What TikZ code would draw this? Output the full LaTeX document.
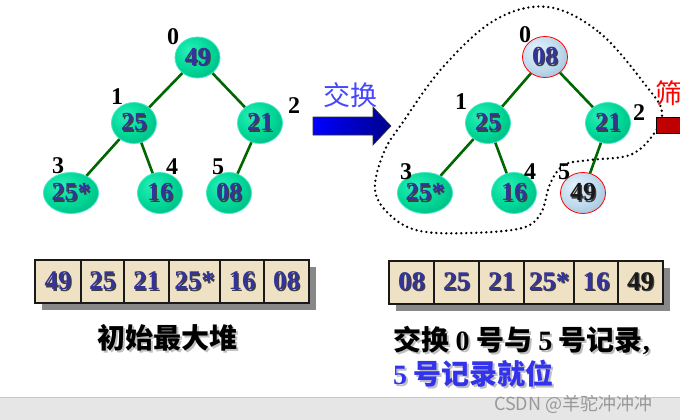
\documentclass[tikz,border=0pt]{standalone}
\usepackage{fontspec}
\setmainfont{Liberation Serif}
\newfontfamily\cjk{Noto Sans CJK SC}
\usetikzlibrary{positioning,shapes.geometric,backgrounds}

\definecolor{numblue}{RGB}{51,51,153}
\definecolor{edgegreen}{RGB}{0,102,0}
\definecolor{parch}{RGB}{239,226,196}
\definecolor{ballhi}{RGB}{40,240,184}
\definecolor{ballmid}{RGB}{0,214,150}
\definecolor{balllo}{RGB}{0,120,92}
\definecolor{ballrim}{RGB}{70,232,196}
\definecolor{icehi}{RGB}{228,242,252}
\definecolor{icemid}{RGB}{190,218,238}
\definecolor{icelo}{RGB}{110,140,170}
\definecolor{swapblue}{RGB}{70,70,255}
\definecolor{capblue}{RGB}{51,51,238}
\definecolor{sievered}{RGB}{192,0,0}
\definecolor{shadowgray}{RGB}{136,136,136}
\definecolor{barfill}{RGB}{230,230,230}
\definecolor{barline}{RGB}{200,200,200}

\pgfdeclareradialshading{greenball}{\pgfpoint{-10bp}{10bp}}{color(0bp)=(ballhi); color(22bp)=(ballmid); color(62bp)=(balllo)}
\pgfdeclareradialshading{iceball}{\pgfpoint{-10bp}{10bp}}{color(0bp)=(icehi); color(22bp)=(icemid); color(62bp)=(icelo)}

% text with a drop shadow
\newcommand\shnum[1]{\rlap{\hspace{1.4pt}\raisebox{-1.4pt}{\textcolor{black!75}{#1}}}#1}
\newcommand\shcap[1]{\rlap{\hspace{2pt}\raisebox{-2pt}{\textcolor{black!25}{#1}}}#1}

\begin{document}
\begin{tikzpicture}[
    x=1pt, y=-1pt,
    heapnode/.style={ellipse, minimum width=45pt, minimum height=41pt, inner sep=0pt,
        draw=ballrim, line width=0.8pt, shading=greenball,
        font=\fontsize{26}{26}\selectfont\bfseries, text=numblue},
    swapnode/.style={heapnode, shading=iceball, draw=red},
    idx/.style={inner sep=0pt, font=\fontsize{24}{24}\selectfont\bfseries},
    tedge/.style={edgegreen, line width=2.6pt},
    cell/.style={draw=black!90, line width=2pt, fill=parch, minimum height=43pt,
        inner sep=0pt, outer sep=0pt, font=\fontsize{27}{27}\selectfont\bfseries, text=numblue},
    caption/.style={inner sep=0pt, font=\cjk\bfseries\fontsize{28}{28}\selectfont},
    dotloop/.style={line width=2.6pt, dash pattern=on 0pt off 5pt, line cap=round},
  ]
  \useasboundingbox (0,0) rectangle (680,420);
  \clip (0,0) rectangle (680,420);

  % initial max heap
  \node[heapnode] (L0) at (197.5,57.5) {\shnum{49}};
  \node[heapnode] (L1) at (134,123)    {\shnum{25}};
  \node[heapnode] (L2) at (260,123)    {\shnum{21}};
  \node[heapnode] (L3) at (71,193)     {\shnum{25*}};
  \node[heapnode] (L4) at (160,193)    {\shnum{16}};
  \node[heapnode] (L5) at (229,193)    {\shnum{08}};
  \draw[tedge] (L0) -- (L1);
  \draw[tedge] (L0) -- (L2);
  \draw[tedge] (L1) -- (L3);
  \draw[tedge] (L1) -- (L4);
  \draw[tedge] (L2) -- (L5);
  \node[idx] (li0) at (173,37)  {0};
  \node[idx] (li1) at (117,97)  {1};
  \node[idx] (li2) at (294,106) {2};
  \node[idx] (li3) at (58,166)  {3};
  \node[idx] (li4) at (172,167) {4};
  \node[idx] (li5) at (218,167) {5};

  % swap arrow
  \draw[black!80, line width=0.6pt, left color=blue, right color=blue!55!black]
    (313,117) -- (373,117) -- (373,107) -- (391,126) -- (373,145) -- (373,135) -- (313,135) -- cycle;
  \node[inner sep=0pt, text=swapblue, font=\cjk\fontsize{27}{27}\selectfont] (swaptxt) at (350,95.5) {交换};

  % heap after swap
  \node[swapnode] (R0) at (545,57)  {\shnum{08}};
  \node[heapnode] (R1) at (488,123) {\shnum{25}};
  \node[heapnode] (R2) at (608,123) {\shnum{21}};
  \node[heapnode] (R3) at (425,193) {\shnum{25*}};
  \node[heapnode] (R4) at (514,193) {\shnum{16}};
  \node[swapnode, text=black!90] (R5) at (583,193) {\shnum{49}};
  \draw[tedge] (R0) -- (R1);
  \draw[tedge] (R0) -- (R2);
  \draw[tedge] (R1) -- (R3);
  \draw[tedge] (R1) -- (R4);
  \draw[tedge] (R2) -- (R5);
  \node[idx] (ri0) at (525,35)  {0};
  \node[idx] (ri1) at (461,102) {1};
  \node[idx] (ri2) at (639,113) {2};
  \node[idx] (ri3) at (406,172) {3};
  \node[idx] (ri4) at (530,172) {4};
  \node[idx] (ri5) at (564,172) {5};

  \draw[dotloop] plot[smooth cycle, tension=0.6] coordinates {(548,7) (600,33) (647,87) (662,112) (653,135) (630,155) (590,160) (564,165) (550,184) (541,213) (522,228) (470,233) (420,231) (391,216) (375,190) (384,152) (403,122) (443,67) (495,20)};

  % sieve step (cut off at the edge)
  \node[inner sep=0pt, anchor=west, text=red, font=\cjk\fontsize{27}{27}\selectfont] (sievetxt) at (655,93) {筛};
  \draw[black, line width=0.8pt, fill=sievered] (656,117) rectangle (690,133);

  % arrays
  \node[cell, minimum width=46pt, anchor=west] (a1) at (35,281.5) {\shnum{49}};
  \node[cell, minimum width=43pt, right=0pt of a1] (a2) {\shnum{25}};
  \node[cell, minimum width=45pt, right=0pt of a2] (a3) {\shnum{21}};
  \node[cell, minimum width=51pt, right=0pt of a3] (a4) {\shnum{25*}};
  \node[cell, minimum width=44pt, right=0pt of a4] (a5) {\shnum{16}};
  \node[cell, minimum width=45pt, right=0pt of a5] (a6) {\shnum{08}};

  \node[cell, minimum width=45pt, anchor=west] (b1) at (389,282) {\shnum{08}};
  \node[cell, minimum width=45pt, right=0pt of b1] (b2) {\shnum{25}};
  \node[cell, minimum width=45pt, right=0pt of b2] (b3) {\shnum{21}};
  \node[cell, minimum width=50pt, right=0pt of b3] (b4) {\shnum{25*}};
  \node[cell, minimum width=44pt, right=0pt of b4] (b5) {\shnum{16}};
  \node[cell, minimum width=45pt, right=0pt of b5, text=black!90] (b6) {\shnum{49}};

  \begin{scope}[on background layer]
    \fill[white] (0,0) rectangle (680,420);
    \fill[shadowgray] ([shift={(7,7)}]a1.north west) rectangle ([shift={(7,7)}]a6.south east);
    \fill[shadowgray] ([shift={(7,7)}]b1.north west) rectangle ([shift={(7,7)}]b6.south east);
  \end{scope}

  % captions
  \node[caption] (capL) at (167.5,339) {\shcap{初始最大堆}};
  \node[caption, anchor=west] (capR1) at (393,341) {\shcap{交换 {\rmfamily 0} 号与 {\rmfamily 5} 号记录{\rmfamily ,}}};
  \node[caption, anchor=west, text=capblue] (capR2) at (393,375) {\shcap{{\rmfamily 5} 号记录就位}};

  % page footer
  \fill[barfill] (0,397) rectangle (680,420);
  \draw[barline, line width=1pt] (0,397) -- (680,397);
  \node[inner sep=0pt, anchor=west, text=black!40, font=\cjk\fontsize{18}{18}\selectfont] (mark) at (494,404) {CSDN @羊驼冲冲冲};
\end{tikzpicture}
\end{document}
